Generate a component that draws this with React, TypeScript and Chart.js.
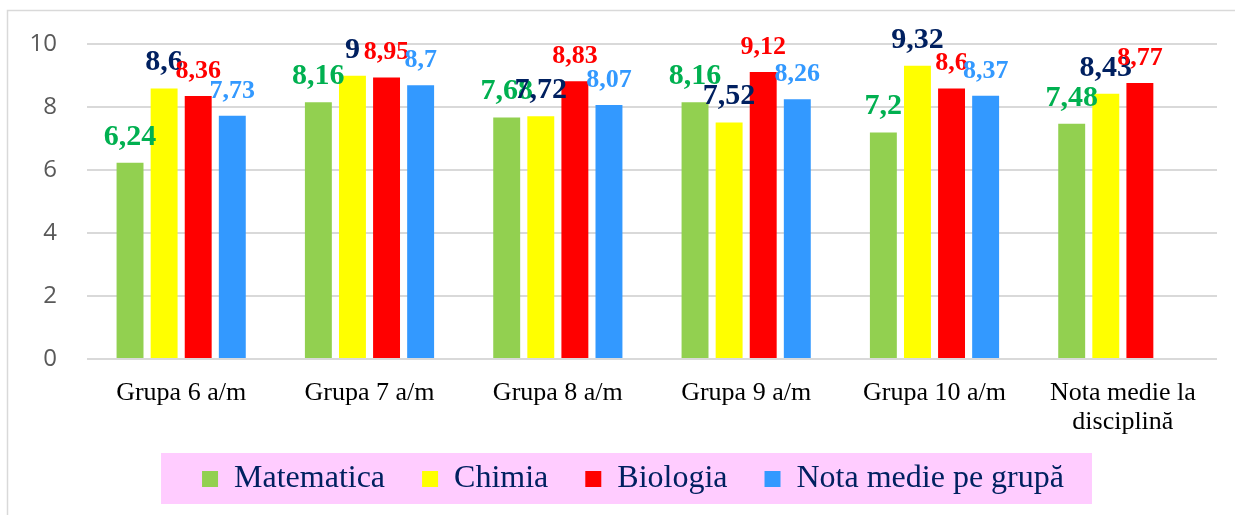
import React, { useEffect, useRef } from "react";
import { Chart, registerables } from "chart.js";

Chart.register(...registerables);

const categories: (string | string[])[] = [
  "Grupa 6 a/m",
  "Grupa 7 a/m",
  "Grupa 8 a/m",
  "Grupa 9 a/m",
  "Grupa 10 a/m",
  ["Nota medie la", "disciplină"],
];

const seriesNames = ["Matematica", "Chimia", "Biologia", "Nota medie pe grupă"];

const matematica = [6.24, 8.16, 7.68, 8.16, 7.2, 7.48];
const chimia = [8.6, 9, 7.72, 7.52, 9.32, 8.43];
const biologia = [8.36, 8.95, 8.83, 9.12, 8.6, 8.77];
const notaMedie: (number | null)[] = [7.73, 8.7, 8.07, 8.26, 8.37, null];

const yTicks = [0, 2, 4, 6, 8, 10];

const barColors = ["#92D050", "#FFFF00", "#FF0000", "#3399FF"];
const labelColors = ["#00B050", "#002060", "#FF0000", "#3399FF"];
const labelSizes = [30, 30, 26, 26];

const W = 1235;
const H = 515;

const decorPlugin = {
  id: "decor",
  afterLayout(chart: any) {
    const lg = chart.legend;
    if (!lg) return;
    lg.left = 49;
    lg.width = lg.right - lg.left;
    lg.top = 426;
    lg.height = 83;
    lg.bottom = lg.top + lg.height;
  },
  beforeDraw(chart: any) {
    const ctx = chart.ctx;
    ctx.save();
    ctx.fillStyle = "#FFFFFF";
    ctx.fillRect(0, 0, chart.width, chart.height);
    ctx.strokeStyle = "#D9D9D9";
    ctx.lineWidth = 1.5;
    ctx.beginPath();
    ctx.moveTo(7.5, H);
    ctx.lineTo(7.5, 10.5);
    ctx.lineTo(W, 10.5);
    ctx.stroke();
    const hb = chart.legend && chart.legend.legendHitBoxes;
    if (hb && hb.length) {
      let l = Infinity, r = -Infinity, t = Infinity, b = -Infinity;
      hb.forEach((h: any) => {
        l = Math.min(l, h.left);
        r = Math.max(r, h.left + h.width);
        t = Math.min(t, h.top);
        b = Math.max(b, h.top + h.height);
      });
      ctx.fillStyle = "#FFCCFF";
      ctx.fillRect(l - 41, t - 10, r - l + 41 + 28, b - t + 19);
    }
    ctx.restore();
  },
};

const valueLabelPlugin = {
  id: "valueLabels",
  afterDatasetsDraw(chart: any) {
    const ctx = chart.ctx;
    ctx.save();
    ctx.textAlign = "center";
    ctx.textBaseline = "alphabetic";
    chart.data.datasets.forEach((ds: any, di: number) => {
      const meta = chart.getDatasetMeta(di);
      meta.data.forEach((bar: any, i: number) => {
        const v = ds.data[i];
        if (v === null || v === undefined) return;
        ctx.font = `bold ${labelSizes[di]}px "Liberation Serif", "Times New Roman", serif`;
        ctx.fillStyle = labelColors[di];
        ctx.fillText(String(v).replace(".", ","), bar.x, bar.y - 18);
      });
    });
    ctx.restore();
  },
};

export default function App() {
  const ref = useRef<HTMLCanvasElement | null>(null);

  useEffect(() => {
    if (!ref.current) return;
    const values = [matematica, chimia, biologia, notaMedie];
    const chart = new Chart(ref.current, {
      type: "bar",
      data: {
        labels: categories as any,
        datasets: values.map((d, i) => ({
          label: seriesNames[i],
          data: d as any,
          backgroundColor: barColors[i],
          borderWidth: 0,
          categoryPercentage: 0.724,
          barPercentage: 0.79,
        })),
      },
      options: {
        responsive: false,
        animation: false,
        events: [],
        layout: { padding: { left: 0, right: 18, top: 43, bottom: 0 } },
        plugins: {
          title: { display: false },
          tooltip: { enabled: false },
          legend: {
            display: true,
            position: "bottom",
            maxHeight: 76,
            labels: {
              boxWidth: 16,
              boxHeight: 16,
              padding: 37,
              color: "#002060",
              font: { family: '"Liberation Serif", "Times New Roman", serif', size: 32 },
            },
          },
        },
        scales: {
          x: {
            grid: { display: false, drawTicks: false },
            border: { display: false },
            ticks: {
              color: "#000000",
              padding: 20,
              maxRotation: 0,
              autoSkip: false,
              font: { family: '"Liberation Serif", "Times New Roman", serif', size: 26, lineHeight: 1.1 },
            },
            afterFit(scale: any) {
              scale.height = 80;
            },
          },
          y: {
            min: 0,
            max: 10,
            afterBuildTicks(scale: any) {
              scale.ticks = yTicks.map((v) => ({ value: v }));
            },
            grid: { color: "#D9D9D9", lineWidth: 2, drawTicks: false },
            border: { display: false },
            ticks: {
              color: "#595959",
              padding: 30,
              font: { family: '"Open Sans", "Liberation Sans", sans-serif', size: 24 },
            },
            afterFit(scale: any) {
              scale.width = 87;
            },
          },
        },
      },
      plugins: [decorPlugin, valueLabelPlugin],
    });
    return () => chart.destroy();
  }, []);

  return (
    <div style={{ position: "fixed", left: 0, top: 0, width: W, height: H, background: "#fff" }}>
      <canvas ref={ref} width={W} height={H} style={{ display: "block", width: W, height: H }} />
    </div>
  );
}
